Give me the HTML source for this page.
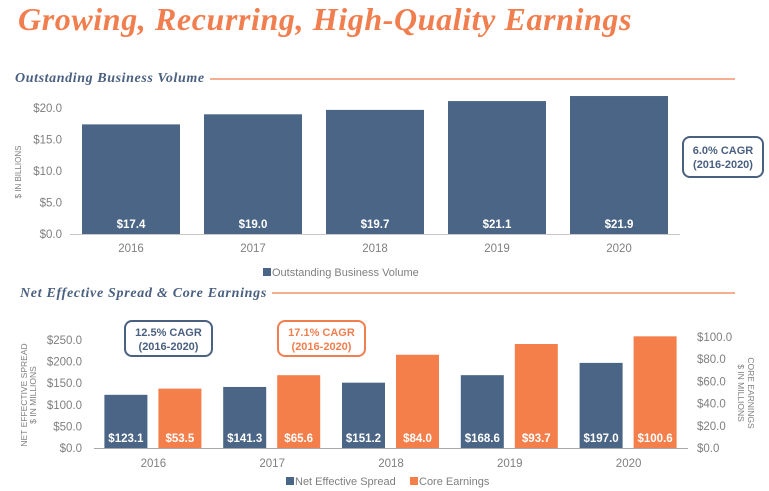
<!DOCTYPE html>
<html><head><meta charset="utf-8"><style>
body{margin:0;background:#fff;width:769px;height:491px;overflow:hidden}
svg{display:block;font-family:"Liberation Sans",sans-serif}
</style></head><body>
<svg id="c" width="769" height="491">
<text x="18" y="30" font-family="Liberation Serif,serif" font-style="italic" font-weight="bold" font-size="32" letter-spacing="0.6" fill="#f07e4e">Growing, Recurring, High-Quality Earnings</text>
<text x="15" y="82" font-family="Liberation Serif,serif" font-style="italic" font-weight="bold" font-size="14" letter-spacing="0.6" fill="#4a6080">Outstanding Business Volume</text>
<line x1="210" y1="79" x2="735" y2="79" stroke="#f07e4e" stroke-width="1.2"/>
<text x="20" y="297" font-family="Liberation Serif,serif" font-style="italic" font-weight="bold" font-size="14" letter-spacing="0.7" fill="#4a6080">Net Effective Spread &amp; Core Earnings</text>
<line x1="272" y1="293" x2="735" y2="293" stroke="#f07e4e" stroke-width="1.2"/>
<g id="topg"></g><g id="botg"></g>
<rect x="683" y="137" width="80" height="40" rx="7" fill="#fff" stroke="#4a6080" stroke-width="2"/>
<text x="723" y="154" text-anchor="middle" font-size="11" font-weight="bold" fill="#4a6080">6.0% CAGR</text>
<text x="723" y="168" text-anchor="middle" font-size="11" font-weight="bold" fill="#4a6080">(2016-2020)</text>
<rect x="125" y="321" width="87" height="35" rx="7" fill="#fff" stroke="#4a6080" stroke-width="2"/>
<text x="168.5" y="336" text-anchor="middle" font-size="11" font-weight="bold" fill="#4a6080">12.5% CAGR</text>
<text x="168.5" y="350" text-anchor="middle" font-size="11" font-weight="bold" fill="#4a6080">(2016-2020)</text>
<rect x="278" y="321" width="87" height="35" rx="7" fill="#fff" stroke="#f07e4e" stroke-width="2"/>
<text x="321.5" y="336" text-anchor="middle" font-size="11" font-weight="bold" fill="#f07e4e">17.1% CAGR</text>
<text x="321.5" y="350" text-anchor="middle" font-size="11" font-weight="bold" fill="#f07e4e">(2016-2020)</text>
</svg>
<script>
const years=["2016","2017","2018","2019","2020"];
const volume=[17.4,19.0,19.7,21.1,21.9];
const volumeTicks=[0,5,10,15,20];
const spread=[123.1,141.3,151.2,168.6,197.0];
const core=[53.5,65.6,84.0,93.7,100.6];
const spreadTicks=[0,50,100,150,200,250];
const coreTicks=[0,20,40,60,80,100];
const NS="http://www.w3.org/2000/svg";
function mk(p,t,a,txt){const e=document.createElementNS(NS,t);for(const k in a)e.setAttribute(k,a[k]);if(txt!=null)e.textContent=txt;p.appendChild(e);return e;}
const BLUE="#4a6585",OR="#f47f4b",GR="#7f7f7f";
// top chart
const topG=document.getElementById('topg');
const tx0=70,tband=122,ty0=234,tys=126/20;
const ty=v=>ty0-v*tys;
volumeTicks.forEach(v=>{const t=mk(topG,'text',{x:62,y:ty(v)+4,'text-anchor':'end','font-size':11.5,fill:GR},'$'+v.toFixed(1));

});
years.forEach((y,i)=>{const cx=tx0+tband*(i+0.5);
const r=mk(topG,'rect',{x:cx-49,y:ty(volume[i]),width:98,height:ty0-ty(volume[i]),fill:BLUE});


const l=mk(topG,'text',{x:cx,y:228,'text-anchor':'middle','font-size':11.5,'font-weight':'bold',fill:'#fff'},'$'+volume[i].toFixed(1));


const xl=mk(topG,'text',{x:cx,y:252,'text-anchor':'middle','font-size':11.5,fill:GR},y);

});
const ta=mk(topG,'line',{x1:tx0,y1:ty0+0.5,x2:tx0+tband*5,y2:ty0+0.5,stroke:'#c8c8c8'});


const yt=mk(topG,'text',{transform:'translate(21,172) rotate(-90)','text-anchor':'middle','font-size':8,fill:GR},'$ IN BILLIONS');


const lg1=mk(topG,'rect',{x:263,y:268,width:8,height:8,fill:BLUE});


const lt1=mk(topG,'text',{x:272,y:276,'font-size':11,fill:GR},'Outstanding Business Volume');


// bottom chart
const botG=document.getElementById('botg');
const bx0=94,bband=118.8,by0=448,bls=108/250,brs=111/100;
const byl=v=>by0-v*bls,byr=v=>by0-v*brs;
spreadTicks.forEach(v=>{const t=mk(botG,'text',{x:82,y:byl(v)+4,'text-anchor':'end','font-size':11.5,fill:GR},'$'+v.toFixed(1));

});
coreTicks.forEach(v=>{const t=mk(botG,'text',{x:697,y:byr(v)+4,'font-size':11.5,fill:GR},'$'+v.toFixed(1));

});
years.forEach((y,i)=>{const cx=bx0+bband*(i+0.5);
const b=mk(botG,'rect',{x:cx-49,y:byl(spread[i]),width:43,height:by0-byl(spread[i]),fill:BLUE});


const o=mk(botG,'rect',{x:cx+5,y:byr(core[i]),width:43,height:by0-byr(core[i]),fill:OR});


const l1=mk(botG,'text',{x:cx-27.5,y:442,'text-anchor':'middle','font-size':11.5,'font-weight':'bold',fill:'#fff'},'$'+spread[i].toFixed(1));


const l2=mk(botG,'text',{x:cx+26.5,y:442,'text-anchor':'middle','font-size':11.5,'font-weight':'bold',fill:'#fff'},'$'+core[i].toFixed(1));


const xl=mk(botG,'text',{x:cx,y:467,'text-anchor':'middle','font-size':11.5,fill:GR},y);

});
const ba=mk(botG,'line',{x1:bx0,y1:by0+0.5,x2:bx0+bband*5,y2:by0+0.5,stroke:'#a8a8a8'});


const a1=mk(botG,'text',{transform:'translate(27,395) rotate(-90)','text-anchor':'middle','font-size':8.5,fill:GR},'NET EFFECTIVE SPREAD');


const a2=mk(botG,'text',{transform:'translate(36,395) rotate(-90)','text-anchor':'middle','font-size':8.5,fill:GR},'$ IN MILLIONS');


const a3=mk(botG,'text',{transform:'translate(748,393) rotate(90)','text-anchor':'middle','font-size':8.5,fill:GR},'CORE EARNINGS');


const a4=mk(botG,'text',{transform:'translate(738,393) rotate(90)','text-anchor':'middle','font-size':8.5,fill:GR},'$ IN MILLIONS');


const s1=mk(botG,'rect',{x:286,y:477,width:8,height:8,fill:BLUE});


const t1=mk(botG,'text',{x:295,y:485,'font-size':11,fill:GR},'Net Effective Spread');


const s2=mk(botG,'rect',{x:410,y:477,width:8,height:8,fill:OR});


const t2=mk(botG,'text',{x:419,y:485,'font-size':11,fill:GR},'Core Earnings');


</script>
</body></html>
